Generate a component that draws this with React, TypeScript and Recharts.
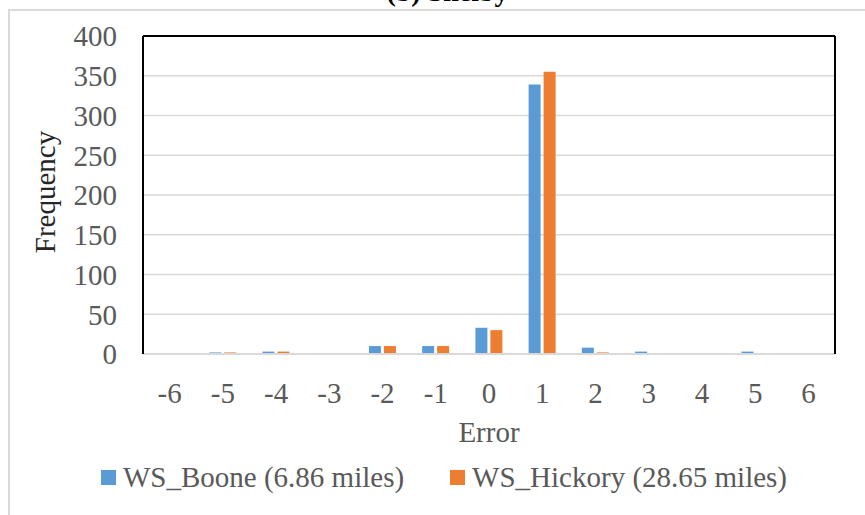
import { Bar, BarChart, CartesianGrid, Legend, XAxis, YAxis } from 'recharts'

const errors = ['-6', '-5', '-4', '-3', '-2', '-1', '0', '1', '2', '3', '4', '5', '6']
const booneFreq = [0, 2, 3, 1, 10, 10, 33, 339, 8, 3, 1, 3, 0]
const hickoryFreq = [0, 2, 3, 1, 10, 10, 30, 355, 2, 1, 0, 0, 0]
const yTicks = [0, 50, 100, 150, 200, 250, 300, 350, 400]

const BOONE = '#5B9BD5'
const HICKORY = '#ED7D31'
const FONT = '"Liberation Serif", "Times New Roman", serif'

const data = errors.map((err, i) => ({
  error: err,
  boone: booneFreq[i],
  hickory: hickoryFreq[i],
}))

const legendItems = [
  { key: 'boone', label: 'WS_Boone (6.86 miles)', color: BOONE },
  { key: 'hickory', label: 'WS_Hickory (28.65 miles)', color: HICKORY },
]

function LegendContent() {
  return (
    <div style={{ display: 'flex', alignItems: 'center', fontFamily: FONT, fontSize: 29, color: '#595959', whiteSpace: 'nowrap' }}>
      {legendItems.map((item, i) => (
        <div key={item.key} style={{ display: 'flex', alignItems: 'center', marginLeft: i === 0 ? 0 : 46 }}>
          <span style={{ display: 'inline-block', width: 15, height: 15, background: item.color, marginRight: 7 }} />
          <span style={{ lineHeight: '32px' }}>{item.label}</span>
        </div>
      ))}
    </div>
  )
}

function FrequencyLabel(props: any) {
  const vb = props.viewBox || { x: 0, y: 0, width: 0, height: 0 }
  const x = vb.x + 55
  const y = vb.y + vb.height / 2 - 3
  return (
    <text x={x} y={y} transform={`rotate(-90 ${x} ${y})`} textAnchor="middle" fill="#262626" fontFamily={FONT} fontSize={29}>
      Frequency
    </text>
  )
}

export default function App() {
  return (
    <div style={{ position: 'absolute', left: 0, top: 0, width: 865, height: 515, overflow: 'hidden', background: '#fff' }}>
      <div
        style={{
          position: 'absolute',
          left: 8,
          top: 9,
          width: 900,
          height: 600,
          borderTop: '2px solid #d9d9d9',
          borderLeft: '2px solid #d9d9d9',
        }}
      />
      <div
        style={{
          position: 'absolute',
          left: 0,
          width: 895,
          top: -24,
          textAlign: 'center',
          fontFamily: FONT,
          fontWeight: 'bold',
          fontSize: 28,
          lineHeight: '32px',
          color: '#000',
        }}
      >
        (b) Shelby
      </div>
      <div style={{ position: 'absolute', left: 0, top: 0 }}>
        <BarChart width={865} height={515} data={data} margin={{ top: 35, right: 29, left: 0, bottom: 61 }} barSize={12} barGap={3}>
          <CartesianGrid vertical={false} stroke="#d9d9d9" strokeWidth={1.5} />
          <XAxis
            dataKey="error"
            height={100}
            axisLine={{ stroke: '#d9d9d9', strokeWidth: 2 }}
            tickLine={false}
            tickSize={0}
            tickMargin={28}
            tick={{ fill: '#595959', fontFamily: FONT, fontSize: 29 }}
            label={{ value: 'Error', position: 'insideBottom', offset: 12, fill: '#595959', fontFamily: FONT, fontSize: 29 }}
          />
          <XAxis xAxisId="top" orientation="top" dataKey="error" height={1} axisLine={{ stroke: '#000', strokeWidth: 2 }} tick={false} tickLine={false} />
          <YAxis
            width={143}
            domain={[0, 400]}
            ticks={yTicks}
            interval={0}
            axisLine={{ stroke: '#000', strokeWidth: 2 }}
            tickLine={false}
            tickSize={0}
            tickMargin={26}
            tick={{ fill: '#595959', fontFamily: FONT, fontSize: 29 }}
            label={{ content: FrequencyLabel }}
          />
          <YAxis yAxisId="right" orientation="right" width={1} axisLine={{ stroke: '#000', strokeWidth: 2 }} tick={false} tickLine={false} />
          <Legend
            layout="horizontal"
            verticalAlign="middle"
            align="center"
            wrapperStyle={{ top: 461, left: 101, width: 'auto', height: 32 }}
            content={LegendContent}
          />
          <Bar dataKey="boone" name="WS_Boone (6.86 miles)" fill={BOONE} isAnimationActive={false} />
          <Bar dataKey="hickory" name="WS_Hickory (28.65 miles)" fill={HICKORY} isAnimationActive={false} />
        </BarChart>
      </div>
    </div>
  )
}
